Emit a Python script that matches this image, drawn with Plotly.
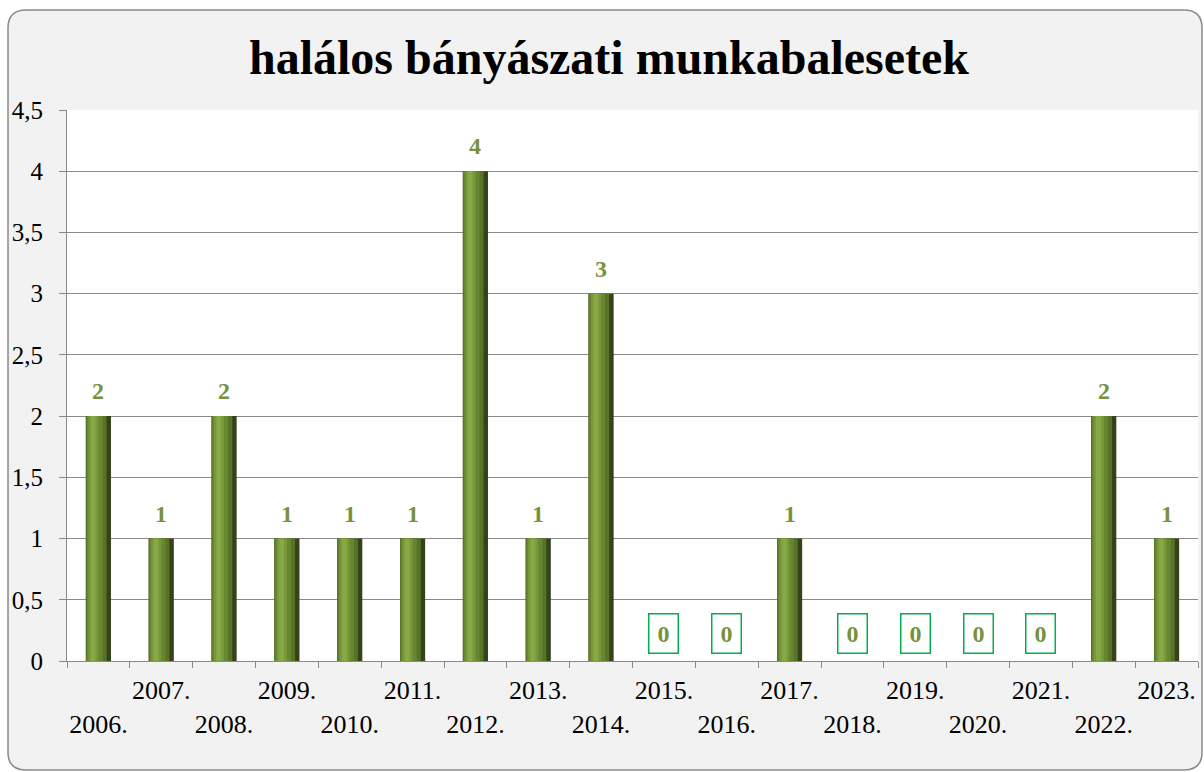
import plotly.graph_objects as go

# Fatal mining accidents per year
years = ["2006.", "2007.", "2008.", "2009.", "2010.", "2011.", "2012.", "2013.", "2014.",
         "2015.", "2016.", "2017.", "2018.", "2019.", "2020.", "2021.", "2022.", "2023."]
accidents = [2, 1, 2, 1, 1, 1, 4, 1, 3, 0, 0, 1, 0, 0, 0, 0, 2, 1]
y_ticks = [0, 0.5, 1, 1.5, 2, 2.5, 3, 3.5, 4, 4.5]
title_text = "halálos bányászati munkabalesetek"

W, H = 1204, 772
ML, MR, MT, MB = 67, 6, 110, 111
PW, PH = W - ML - MR, H - MT - MB

SERIF = "Liberation Serif"
LABEL_GREEN = "#76923c"
GRID = "#898989"


def px_to_paper(px, py):
    return (px - ML) / PW, (H - MB - py) / PH


def rounded_rect(x0, y0, x1, y1, r):
    def p(x, y):
        return "%.5f,%.5f" % px_to_paper(x, y)

    pts = [
        "M" + p(x0 + r, y0),
        "L" + p(x1 - r, y0),
        "Q" + p(x1, y0) + " " + p(x1, y0 + r),
        "L" + p(x1, y1 - r),
        "Q" + p(x1, y1) + " " + p(x1 - r, y1),
        "L" + p(x0 + r, y1),
        "Q" + p(x0, y1) + " " + p(x0, y1 - r),
        "L" + p(x0, y0 + r),
        "Q" + p(x0, y0) + " " + p(x0 + r, y0),
    ]
    return " ".join(pts) + " Z"


fig = go.Figure()

# Cylinder-like shading built from stacked, progressively narrower bars
layers = [
    (0.40, -0.200, "#34431a"),
    (0.33, -0.200, "#587328"),
    (0.25, -0.185, "#688631"),
    (0.16, -0.160, "#789839"),
    (0.08, -0.125, "#87a846"),
]
for width, offset, color in layers:
    fig.add_trace(go.Bar(
        x=years, y=accidents, width=width, offset=offset,
        marker=dict(color=color, line=dict(width=0)),
        hoverinfo="skip", showlegend=False,
    ))

# Value labels above the bars; zero values get a framed label
for i, val in enumerate(accidents):
    common = dict(
        x=i, y=val, xref="x", yref="y", text="<b>%d</b>" % val,
        showarrow=False, yanchor="middle",
        font=dict(family=SERIF, size=24, color=LABEL_GREEN),
    )
    if val == 0:
        fig.add_annotation(
            **common, yshift=28,
            bordercolor="#00b050", borderwidth=1.5, borderpad=1,
            width=26, height=36,
        )
    else:
        fig.add_annotation(**common, yshift=25)

# Category labels alternate between two rows
tick_text = [(" <br>" + y) if i % 2 == 0 else y for i, y in enumerate(years)]

fig.update_layout(
    width=W, height=H,
    margin=dict(l=ML, r=MR, t=MT, b=MB, pad=0),
    paper_bgcolor="white",
    plot_bgcolor="white",
    barmode="overlay",
    separators=", ",
    title=dict(
        text=title_text, x=609 / W, xanchor="center", y=1 - 57 / H, yanchor="middle",
        font=dict(family=SERIF, size=48, color="black", weight="bold"),
    ),
    xaxis=dict(
        type="category", categoryorder="array", categoryarray=years,
        tickvals=years, ticktext=tick_text, tickangle=0,
        tickson="boundaries", ticks="outside", ticklen=6, tickcolor=GRID, tickwidth=1.2,
        showline=True, linecolor=GRID, linewidth=1.2,
        showgrid=False, ticklabelstandoff=6,
        tickfont=dict(family=SERIF, size=26, color="black"),
        range=[-0.5, len(years) - 0.5],
    ),
    yaxis=dict(
        range=[0, 4.5], tickvals=y_ticks,
        ticks="outside", ticklen=7, tickcolor=GRID, tickwidth=1.2,
        showline=True, linecolor=GRID, linewidth=1.2,
        showgrid=True, gridcolor=GRID, gridwidth=1.2,
        zeroline=False, ticklabelstandoff=11,
        tickfont=dict(family=SERIF, size=25, color="black"),
    ),
    shapes=[
        dict(type="path", xref="paper", yref="paper", layer="below",
             path=rounded_rect(8, 10, 1202, 770, 18),
             fillcolor="#f2f2f2", line=dict(color="#8a8a8a", width=1.5)),
        dict(type="rect", xref="paper", yref="paper", layer="below",
             x0=0, x1=1, y0=0, y1=1, fillcolor="white", line=dict(width=0)),
    ],
)

fig.write_html("out.html")
